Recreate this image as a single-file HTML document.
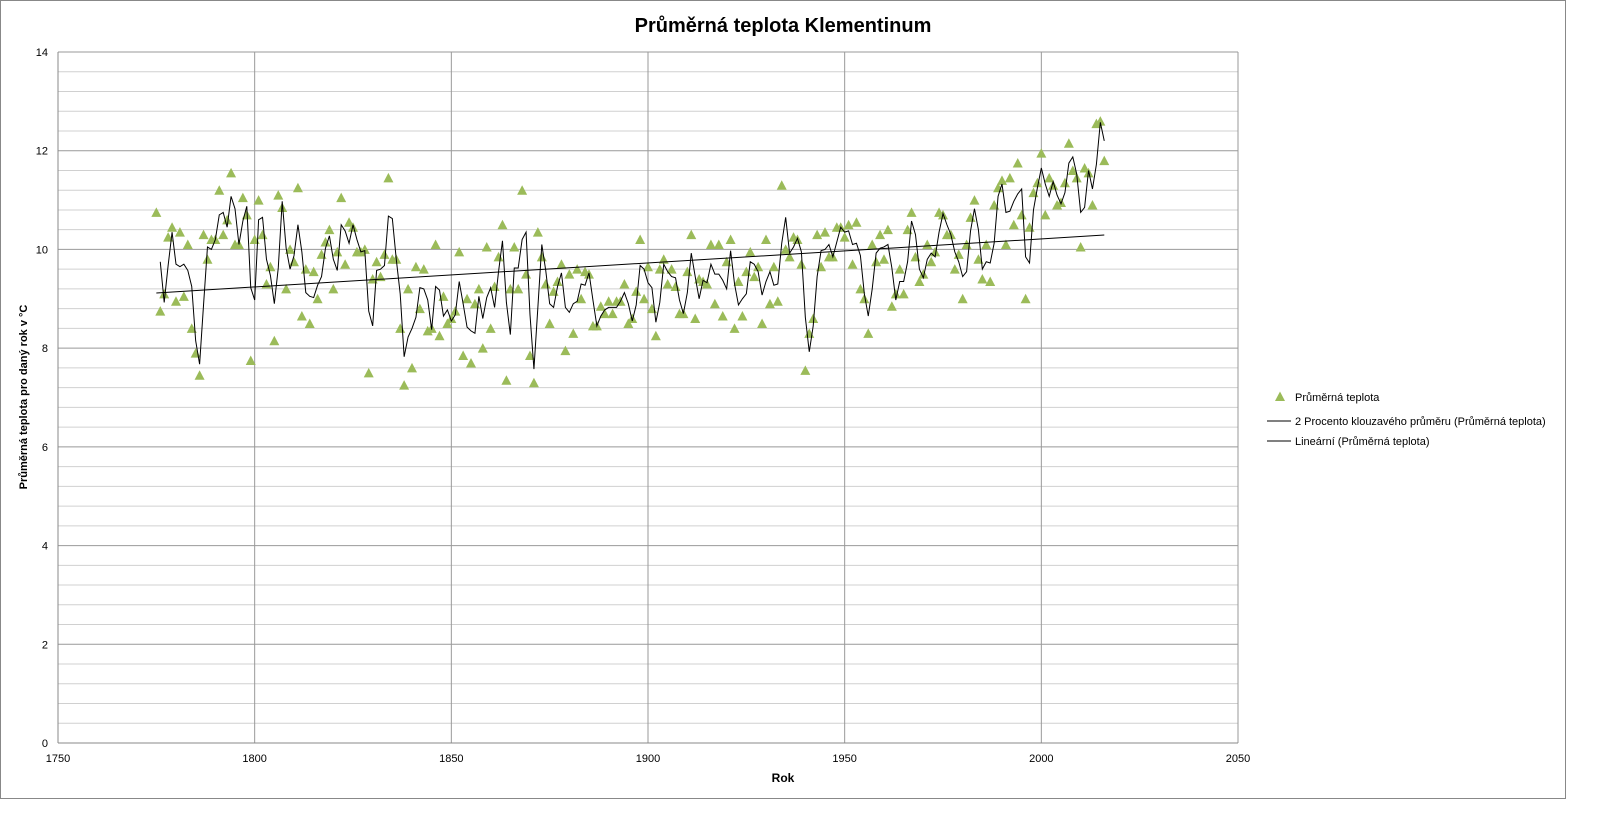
<!DOCTYPE html>
<html><head><meta charset="utf-8"><style>
body{margin:0;background:#fff;}
svg{display:block;font-family:"Liberation Sans",sans-serif;}
</style></head><body>
<svg id="chart" width="1600" height="816" viewBox="0 0 1600 816">
<rect x="0.5" y="0.5" width="1565" height="798" fill="#fff" stroke="#888"/>
<text x="783" y="32" text-anchor="middle" font-size="20" font-weight="bold">Průměrná teplota Klementinum</text>
<g id="grid"></g><g id="axes"></g><g id="series"></g>
<text x="783" y="782" text-anchor="middle" font-size="12" font-weight="bold">Rok</text>
<text transform="translate(27,397) rotate(-90)" text-anchor="middle" font-size="11" font-weight="bold">Průměrná teplota pro daný rok v °C</text>
<g font-size="11">
<polygon points="1275,401 1285,401 1280,391.5" fill="#9bbb59"/>
<text x="1295" y="401">Průměrná teplota</text>
<line x1="1267" y1="421" x2="1291" y2="421" stroke="#000"/>
<text x="1295" y="425">2 Procento klouzavého průměru (Průměrná teplota)</text>
<line x1="1267" y1="441" x2="1291" y2="441" stroke="#000"/>
<text x="1295" y="445">Lineární (Průměrná teplota)</text>
</g>
</svg>
<script>
const startYear = 1775;
const temps = [10.75,8.75,9.1,10.25,10.45,8.95,10.35,9.05,10.1,8.4,7.9,7.45,10.3,9.8,10.2,10.2,11.2,10.3,10.6,11.55,10.1,10.1,11.05,10.7,7.75,
10.2,11.0,10.3,9.3,9.65,8.15,11.1,10.85,9.2,10.0,9.75,11.25,8.65,9.6,8.5,9.55,9.0,9.9,10.15,10.4,9.2,9.95,11.05,9.7,10.55,10.45,9.95,9.95,10.0,7.5,9.4,9.75,9.45,9.9,11.45,9.8,9.8,8.4,7.25,9.2,7.6,9.65,8.8,9.6,8.35,8.4,10.1,8.25,9.05,8.5,
8.6,8.75,9.95,7.85,9.0,7.7,8.9,9.2,8.0,10.05,8.4,9.25,9.85,10.5,7.35,9.2,10.05,9.2,11.2,9.5,7.85,7.3,10.35,9.85,9.3,8.5,9.15,9.35,9.7,7.95,9.5,8.3,9.6,9.0,9.55,9.5,8.45,8.45,8.85,8.7,8.95,8.7,8.95,8.95,9.3,8.5,8.6,9.15,10.2,9.0,
9.65,8.8,8.25,9.6,9.8,9.3,9.6,9.25,8.7,8.7,9.55,10.3,8.6,9.4,9.35,9.3,10.1,8.9,10.1,8.65,9.75,10.2,8.4,9.35,8.65,9.55,9.95,9.45,9.65,8.5,10.2,8.9,9.65,8.95,11.3,10.0,9.85,10.25,10.2,9.7,7.55,8.3,8.6,10.3,9.65,10.35,9.85,9.85,10.45,10.45,
10.25,10.5,9.7,10.55,9.2,9.0,8.3,10.1,9.75,10.3,9.8,10.4,8.85,9.1,9.6,9.1,10.4,10.75,9.85,9.35,9.5,10.1,9.75,9.95,10.75,10.7,10.3,10.3,9.6,9.9,9.0,10.1,10.65,11.0,9.8,9.4,10.1,9.35,10.9,11.25,11.4,10.1,11.45,10.5,11.75,10.7,9.0,10.45,11.15,11.35,
11.95,10.7,11.45,11.3,10.9,10.95,11.35,12.15,11.6,11.45,10.05,11.65,11.55,10.9,12.55,12.6,11.8];
const yTicks = [0,2,4,6,8,10,12,14];
const xTicks = [1750,1800,1850,1900,1950,2000,2050];

const L=58,R=1238,T=52,B=743;
const xS=v=>L+(v-1750)/300*(R-L);
const yS=v=>B-v/14*(B-T);
const NS="http://www.w3.org/2000/svg";
function mk(tag,attrs,parent){const e=document.createElementNS(NS,tag);for(const k in attrs)e.setAttribute(k,attrs[k]);parent.appendChild(e);return e;}
const grid=document.getElementById('grid'),axes=document.getElementById('axes'),series=document.getElementById('series');
for(let i=0;i<=35;i++){const v=i*0.4;const y=yS(v);
 const ln=mk('line',{x1:L,x2:R,y1:y,y2:y,stroke:(i%5===0)?'#999':'#d0d0d0','stroke-width':1},grid);
 
 }
xTicks.forEach(t=>{const x=xS(t);
 const ln=mk('line',{x1:x,x2:x,y1:T,y2:B,stroke:'#999'},grid);
 
 
 const tx=mk('text',{x:x,y:B+19,'text-anchor':'middle','font-size':11},axes);tx.textContent=t;
 
 });
yTicks.forEach(t=>{const tx=mk('text',{x:L-10,y:yS(t)+4,'text-anchor':'end','font-size':11},axes);tx.textContent=t;
 
 });
const ax=mk('line',{x1:L,x2:L,y1:T,y2:B,stroke:'#888'},axes);


const bx=mk('line',{x1:L,x2:R,y1:B,y2:B,stroke:'#888'},axes);


temps.forEach((v,i)=>{const x=xS(startYear+i),y=yS(v);
 const p=mk('polygon',{points:`${x-5},${y+4.5} ${x+5},${y+4.5} ${x},${y-5}`,fill:'#9bbb59'},series);
 
 });
let pts=[];for(let i=1;i<temps.length;i++){pts.push(xS(startYear+i)+','+yS((temps[i]+temps[i-1])/2));}
const ma=mk('polyline',{points:pts.join(' '),fill:'none',stroke:'#000','stroke-width':1},series);


const n=temps.length;let sx=0,sy=0,sxx=0,sxy=0;
temps.forEach((v,i)=>{const x=startYear+i;sx+=x;sy+=v;sxx+=x*x;sxy+=x*v;});
const b=(n*sxy-sx*sy)/(n*sxx-sx*sx),a=(sy-b*sx)/n;
const x0=startYear,x1=startYear+n-1;
const tr=mk('line',{x1:xS(x0),y1:yS(a+b*x0),x2:xS(x1),y2:yS(a+b*x1),stroke:'#000','stroke-width':1},series);


</script>
</body></html>
